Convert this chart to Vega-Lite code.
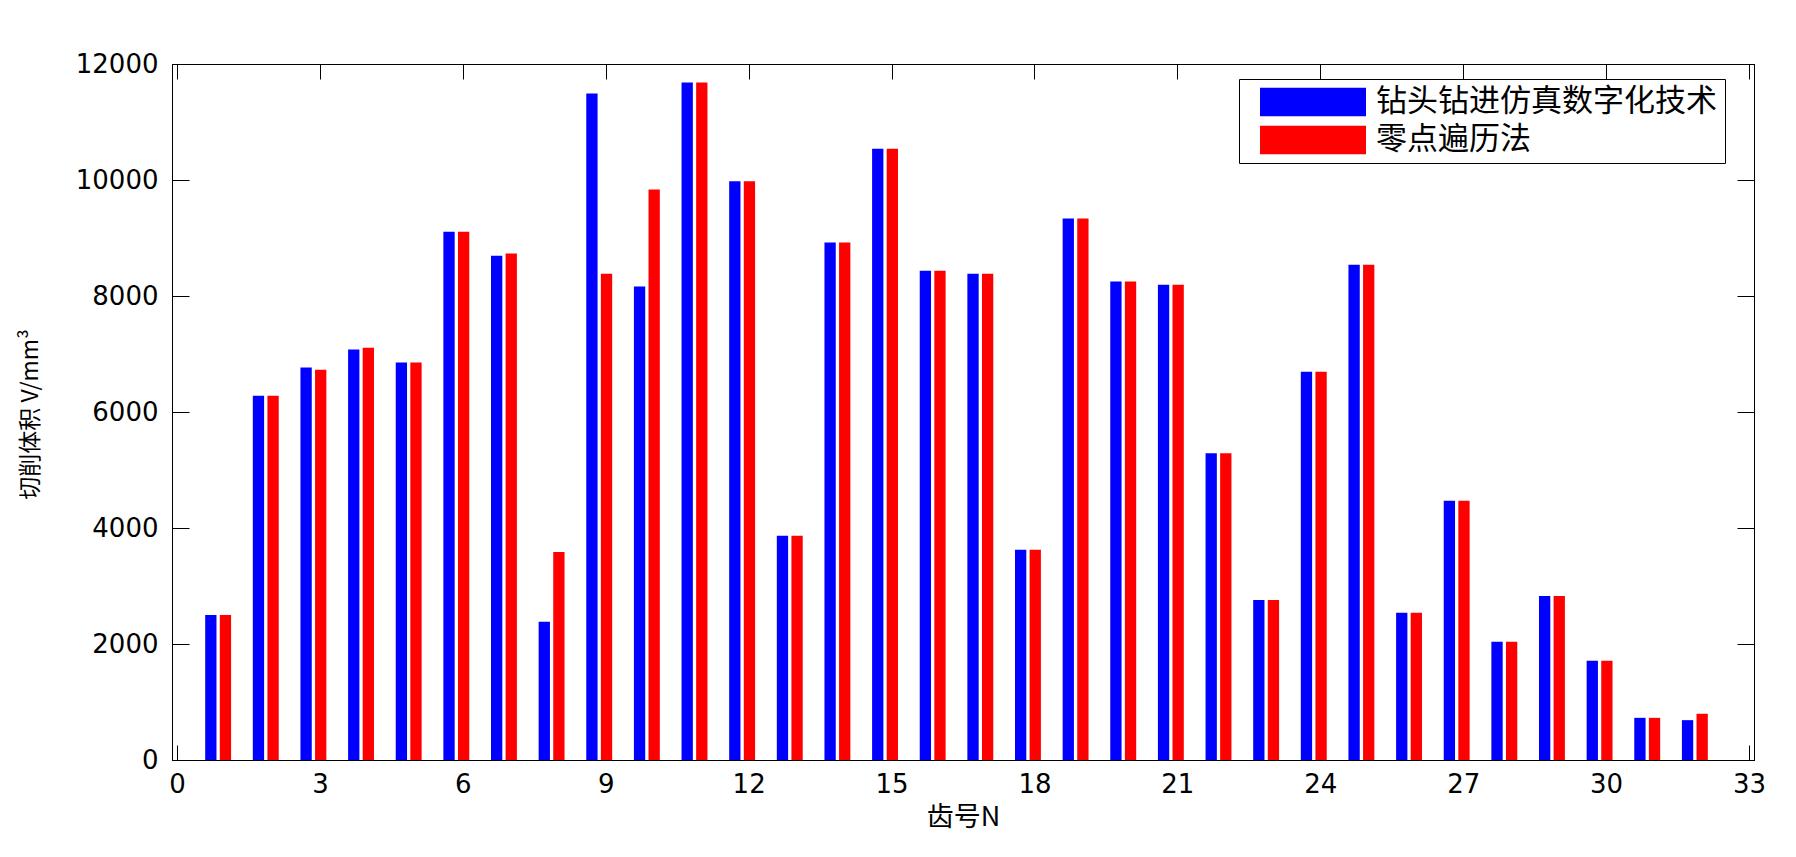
{
  "$schema": "https://vega.github.io/schema/vega-lite/v6.json",
  "width": 1582,
  "height": 696,
  "autosize": {"type": "none"},
  "padding": {"left": 172, "top": 64, "right": 42, "bottom": 97},
  "background": "white",
  "config": {
    "view": {"stroke": "black", "strokeWidth": 1},
    "axis": {
      "grid": false,
      "domainColor": "black",
      "tickColor": "black",
      "labelColor": "black",
      "titleColor": "black",
      "labelFont": "DejaVu Sans",
      "labelFontSize": 26,
      "titleFontWeight": "normal"
    }
  },
  "data": {
    "values": [
      {"N": 1, "method": "钻头钻进仿真数字化技术", "V": 2500}, {"N": 1, "method": "零点遍历法", "V": 2500},
      {"N": 2, "method": "钻头钻进仿真数字化技术", "V": 6281}, {"N": 2, "method": "零点遍历法", "V": 6281},
      {"N": 3, "method": "钻头钻进仿真数字化技术", "V": 6766}, {"N": 3, "method": "零点遍历法", "V": 6727},
      {"N": 4, "method": "钻头钻进仿真数字化技术", "V": 7078}, {"N": 4, "method": "零点遍历法", "V": 7109},
      {"N": 5, "method": "钻头钻进仿真数字化技术", "V": 6852}, {"N": 5, "method": "零点遍历法", "V": 6852},
      {"N": 6, "method": "钻头钻进仿真数字化技术", "V": 9109}, {"N": 6, "method": "零点遍历法", "V": 9109},
      {"N": 7, "method": "钻头钻进仿真数字化技术", "V": 8695}, {"N": 7, "method": "零点遍历法", "V": 8734},
      {"N": 8, "method": "钻头钻进仿真数字化技术", "V": 2383}, {"N": 8, "method": "零点遍历法", "V": 3586},
      {"N": 9, "method": "钻头钻进仿真数字化技术", "V": 11490}, {"N": 9, "method": "零点遍历法", "V": 8383},
      {"N": 10, "method": "钻头钻进仿真数字化技术", "V": 8164}, {"N": 10, "method": "零点遍历法", "V": 9836},
      {"N": 11, "method": "钻头钻进仿真数字化技术", "V": 11680}, {"N": 11, "method": "零点遍历法", "V": 11680},
      {"N": 12, "method": "钻头钻进仿真数字化技术", "V": 9977}, {"N": 12, "method": "零点遍历法", "V": 9977},
      {"N": 13, "method": "钻头钻进仿真数字化技术", "V": 3867}, {"N": 13, "method": "零点遍历法", "V": 3867},
      {"N": 14, "method": "钻头钻进仿真数字化技术", "V": 8922}, {"N": 14, "method": "零点遍历法", "V": 8922},
      {"N": 15, "method": "钻头钻进仿真数字化技术", "V": 10540}, {"N": 15, "method": "零点遍历法", "V": 10540},
      {"N": 16, "method": "钻头钻进仿真数字化技术", "V": 8437}, {"N": 16, "method": "零点遍历法", "V": 8437},
      {"N": 17, "method": "钻头钻进仿真数字化技术", "V": 8383}, {"N": 17, "method": "零点遍历法", "V": 8383},
      {"N": 18, "method": "钻头钻进仿真数字化技术", "V": 3625}, {"N": 18, "method": "零点遍历法", "V": 3625},
      {"N": 19, "method": "钻头钻进仿真数字化技术", "V": 9336}, {"N": 19, "method": "零点遍历法", "V": 9336},
      {"N": 20, "method": "钻头钻进仿真数字化技术", "V": 8250}, {"N": 20, "method": "零点遍历法", "V": 8250},
      {"N": 21, "method": "钻头钻进仿真数字化技术", "V": 8195}, {"N": 21, "method": "零点遍历法", "V": 8195},
      {"N": 22, "method": "钻头钻进仿真数字化技术", "V": 5289}, {"N": 22, "method": "零点遍历法", "V": 5289},
      {"N": 23, "method": "钻头钻进仿真数字化技术", "V": 2758}, {"N": 23, "method": "零点遍历法", "V": 2758},
      {"N": 24, "method": "钻头钻进仿真数字化技术", "V": 6695}, {"N": 24, "method": "零点遍历法", "V": 6695},
      {"N": 25, "method": "钻头钻进仿真数字化技术", "V": 8539}, {"N": 25, "method": "零点遍历法", "V": 8539},
      {"N": 26, "method": "钻头钻进仿真数字化技术", "V": 2539}, {"N": 26, "method": "零点遍历法", "V": 2539},
      {"N": 27, "method": "钻头钻进仿真数字化技术", "V": 4469}, {"N": 27, "method": "零点遍历法", "V": 4469},
      {"N": 28, "method": "钻头钻进仿真数字化技术", "V": 2039}, {"N": 28, "method": "零点遍历法", "V": 2039},
      {"N": 29, "method": "钻头钻进仿真数字化技术", "V": 2828}, {"N": 29, "method": "零点遍历法", "V": 2828},
      {"N": 30, "method": "钻头钻进仿真数字化技术", "V": 1711}, {"N": 30, "method": "零点遍历法", "V": 1711},
      {"N": 31, "method": "钻头钻进仿真数字化技术", "V": 727}, {"N": 31, "method": "零点遍历法", "V": 727},
      {"N": 32, "method": "钻头钻进仿真数字化技术", "V": 687}, {"N": 32, "method": "零点遍历法", "V": 797}
    ]
  },
  "layer": [
    {
      "transform": [{"filter": "datum.method === '钻头钻进仿真数字化技术'"}],
      "mark": {"type": "bar", "width": 11.3, "xOffset": -13.8},
      "encoding": {
        "x": {
          "field": "N", "type": "quantitative",
          "scale": {"domain": [0, 33], "nice": false, "zero": false},
          "axis": {
            "orient": "bottom",
            "values": [0, 3, 6, 9, 12, 15, 18, 21, 24, 27, 30, 33],
            "tickSize": -15,
            "labelPadding": 26,
            "title": "齿号N",
            "titleFont": "Noto Sans CJK SC",
            "titleFontSize": 27,
            "titleBaseline": "top",
            "titleY": 44
          }
        },
        "y": {
          "field": "V", "type": "quantitative",
          "scale": {"domain": [0, 12000], "nice": false},
          "axis": {
            "orient": "left",
            "values": [0, 2000, 4000, 6000, 8000, 10000, 12000],
            "format": "d",
            "tickSize": -17,
            "labelPadding": 31,
            "title": "切削体积 V/mm³",
            "titleFont": "Noto Sans CJK SC",
            "titleFontSize": 23,
            "titleAngle": -90,
            "titleAlign": "center",
            "titleBaseline": "middle",
            "titleX": -142,
            "titleY": 350
          }
        },
        "color": {
          "field": "method", "type": "nominal",
          "scale": {"domain": ["钻头钻进仿真数字化技术", "零点遍历法"], "range": ["#0000ff", "#ff0000"]},
          "legend": {
            "orient": "none",
            "legendX": 1067,
            "legendY": 15,
            "title": null,
            "symbolType": "M-1,-0.27H1V0.27H-1Z",
            "symbolSize": 11236,
            "symbolStrokeWidth": 0,
            "symbolOpacity": 1,
            "labelFont": "Noto Sans CJK SC",
            "labelFontSize": 31,
            "labelColor": "black",
            "labelOffset": 10,
            "labelLimit": 600,
            "padding": 8,
            "symbolOffset": 13,
            "clipHeight": 30,
            "rowPadding": 7,
            "strokeColor": "black",
            "fillColor": "white"
          }
        }
      }
    },
    {
      "transform": [{"filter": "datum.method === '零点遍历法'"}],
      "mark": {"type": "bar", "width": 11.3, "xOffset": 0.8},
      "encoding": {
        "x": {
          "field": "N", "type": "quantitative",
          "scale": {"domain": [0, 33], "nice": false, "zero": false},
          "axis": {
            "orient": "top",
            "values": [0, 3, 6, 9, 12, 15, 18, 21, 24, 27, 30, 33],
            "tickSize": -15,
            "labels": false,
            "title": null
          }
        },
        "y": {
          "field": "V", "type": "quantitative",
          "scale": {"domain": [0, 12000], "nice": false},
          "axis": {
            "orient": "right",
            "values": [0, 2000, 4000, 6000, 8000, 10000, 12000],
            "tickSize": -17,
            "labels": false,
            "title": null
          }
        },
        "color": {"field": "method", "type": "nominal"}
      }
    }
  ],
  "resolve": {"axis": {"x": "independent", "y": "independent"}}
}
